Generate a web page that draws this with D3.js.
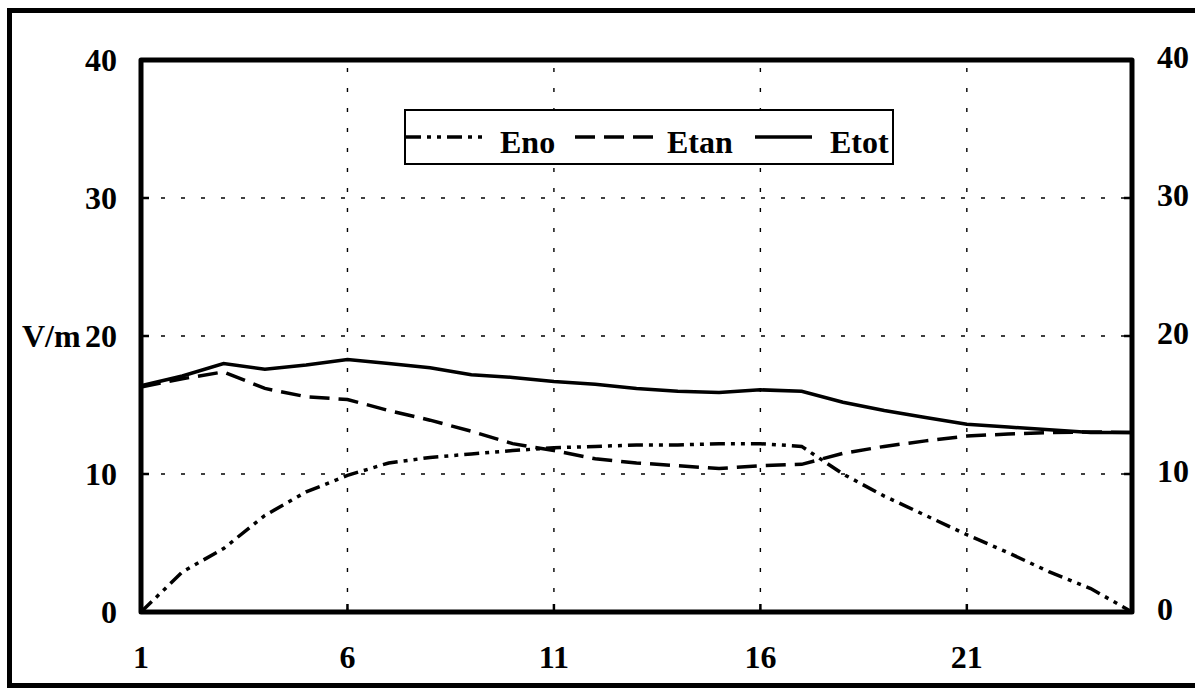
<!DOCTYPE html>
<html><head><meta charset="utf-8">
<script src="https://cdn.jsdelivr.net/npm/d3@7"></script>
<style>html,body{margin:0;padding:0;background:#fff;}svg{display:block;}
text{font-family:"Liberation Serif","Times New Roman",Times,"DejaVu Serif",serif;font-weight:bold;}</style>
</head><body>
<svg id="chart" width="1195" height="688"></svg>
<script>
const xValues = [1,2,3,4,5,6,7,8,9,10,11,12,13,14,15,16,17,18,19,20,21,22,23,24,25];
const eno  = [0,2.9,4.6,7.0,8.7,9.9,10.8,11.2,11.45,11.7,11.9,12.0,12.1,12.1,12.2,12.2,12.0,10.0,8.4,7.0,5.6,4.3,2.9,1.7,0];
const etan = [16.3,16.9,17.4,16.2,15.6,15.4,14.6,13.9,13.1,12.2,11.7,11.1,10.8,10.6,10.4,10.6,10.7,11.5,12.0,12.4,12.75,12.9,13.0,13.05,13.0];
const etot = [16.4,17.1,18.0,17.6,17.9,18.3,18.0,17.7,17.2,17.0,16.7,16.5,16.2,16.0,15.9,16.1,16.0,15.2,14.6,14.1,13.6,13.4,13.2,13.0,13.0];
const xTicks = [1,6,11,16,21];
const yTicks = [0,10,20,30,40];
const yUnit = "V/m";
const seriesNames = ["Eno","Etan","Etot"];

const svg = d3.select("#chart");
const x = d3.scaleLinear().domain([1,25]).range([141,1132]);
const y = d3.scaleLinear().domain([0,40]).range([612,60]);

// outer border
svg.append("rect").attr("x",9.5).attr("y",10.5).attr("width",1200).attr("height",675)
  .attr("fill","none").attr("stroke","#000").attr("stroke-width",5);

// grid
const g = svg.append("g");
g.selectAll(".hg").data(yTicks.filter(d=>d>0&&d<40)).join("line")
  .attr("x1",x(1)).attr("x2",x(25)).attr("y1",d=>y(d)).attr("y2",d=>y(d))
  .attr("stroke","#000").attr("stroke-width",1.4).attr("stroke-dasharray","4,16");
g.selectAll(".vg").data(xTicks.filter(d=>d>1)).join("line")
  .attr("x1",d=>x(d)).attr("x2",d=>x(d)).attr("y1",y(0)).attr("y2",y(40))
  .attr("stroke","#000").attr("stroke-width",1.4).attr("stroke-dasharray","4,16");

// inward ticks
g.selectAll(".tl").data(yTicks.filter(d=>d>0&&d<40)).join("line")
  .attr("x1",x(1)).attr("x2",x(1)+8).attr("y1",d=>y(d)).attr("y2",d=>y(d))
  .attr("stroke","#000").attr("stroke-width",2.5);
g.selectAll(".tr").data(yTicks.filter(d=>d>0&&d<40)).join("line")
  .attr("x1",x(25)).attr("x2",x(25)-8).attr("y1",d=>y(d)).attr("y2",d=>y(d))
  .attr("stroke","#000").attr("stroke-width",2.5);
g.selectAll(".tb").data(xTicks.filter(d=>d>1)).join("line")
  .attr("x1",d=>x(d)).attr("x2",d=>x(d)).attr("y1",y(0)).attr("y2",y(0)-8)
  .attr("stroke","#000").attr("stroke-width",2.5);

// series
const line = vals => d3.line().x((d,i)=>x(xValues[i])).y(d=>y(d))(vals);
const styles = [
  {data:eno, dash:"15,6,4,6,4,6"},
  {data:etan, dash:"20,9"},
  {data:etot, dash:null}
];
styles.forEach(s=>{
  svg.append("path").attr("d",line(s.data)).attr("fill","none")
    .attr("stroke","#000").attr("stroke-width",3.5)
    .attr("stroke-dasharray",s.dash);
});

// frame
svg.append("rect").attr("x",x(1)).attr("y",y(40)).attr("width",x(25)-x(1)).attr("height",y(0)-y(40))
  .attr("fill","none").attr("stroke","#000").attr("stroke-width",5).attr("stroke-linejoin","round");

// axis labels
const lab = svg.append("g").attr("font-size",32).attr("fill","#000");
lab.selectAll(".yl").data(yTicks).join("text")
  .attr("x",117).attr("y",d=>y(d)).attr("dy","0.35em").attr("text-anchor","end").text(d=>d);
lab.selectAll(".yr").data(yTicks).join("text")
  .attr("x",1157).attr("y",d=>y(d)-3).attr("dy","0.35em").attr("text-anchor","start").text(d=>d);
lab.selectAll(".xl").data(xTicks).join("text")
  .attr("x",d=>x(d)).attr("y",668).attr("text-anchor","middle").text(d=>d);
lab.append("text").attr("x",22).attr("y",y(20)).attr("dy","0.35em").attr("text-anchor","start").text(yUnit);

// legend
const lg = svg.append("g");
lg.append("rect").attr("x",405).attr("y",110).attr("width",488).attr("height",54)
  .attr("fill","#fff").attr("stroke","#000").attr("stroke-width",2);
const legItems = [
  {x1:406,x2:488,tx:500,dash:"15,6,4,6,4,6"},
  {x1:575,x2:657,tx:667,dash:"20,9"},
  {x1:755,x2:812,tx:830,dash:null}
];
legItems.forEach((it,i)=>{
  lg.append("line").attr("x1",it.x1).attr("x2",it.x2).attr("y1",137).attr("y2",137)
    .attr("stroke","#000").attr("stroke-width",3.5).attr("stroke-dasharray",it.dash);
  lg.append("text").attr("x",it.tx).attr("y",153).attr("font-size",32).text(seriesNames[i]);
});
</script>
</body></html>
